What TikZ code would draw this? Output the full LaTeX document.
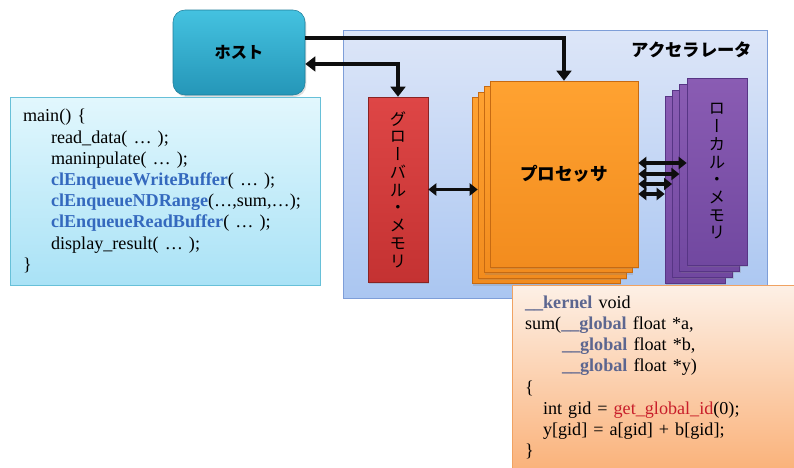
\documentclass[tikz,border=0pt]{standalone}
\usepackage{fontspec}
\setmainfont{Liberation Serif}
\newfontfamily\jpfont{Noto Sans CJK JP}
\newfontfamily\jpvert{Noto Sans CJK JP}[RawFeature=+vert]
\usepackage{tikz}
\usetikzlibrary{positioning,arrows.meta,shadows}
\definecolor{ink}      {HTML}{0E0E0E}
\definecolor{hostup}   {HTML}{44C2E0}
\definecolor{hostdown} {HTML}{2596B8}
\definecolor{hostline} {HTML}{1E7D99}
\definecolor{accup}    {HTML}{DDE6F8}
\definecolor{accdown}  {HTML}{AAC6F1}
\definecolor{accline}  {HTML}{7E9ED8}
\definecolor{srcup}    {HTML}{E2F7FD}
\definecolor{srcdown}  {HTML}{A9E2F6}
\definecolor{srcline}  {HTML}{67C0D8}
\definecolor{kerup}    {HTML}{FDF0E6}
\definecolor{kerdown}  {HTML}{FAB27A}
\definecolor{kerline}  {HTML}{F0A262}
\definecolor{gmemup}   {HTML}{DE4646}
\definecolor{gmemdown} {HTML}{C43232}
\definecolor{procup}   {HTML}{FFA231}
\definecolor{procdown} {HTML}{F28C1E}
\definecolor{procline} {HTML}{C66A12}
\definecolor{lmemup}   {HTML}{8A5CB3}
\definecolor{lmemdown} {HTML}{7148A0}
\definecolor{lmemline} {HTML}{573585}
\definecolor{apiblue}  {HTML}{3469BE}
\definecolor{kwgray}   {HTML}{5C6690}
\definecolor{fnred}    {HTML}{C81E2A}
\tikzset{
  % --- nodes
  shade/.style  = {drop shadow={opacity=.25, shadow xshift=1pt, shadow yshift=-1.5pt}},
  hostbox/.style= {rounded corners=9pt, draw=hostline, top color=hostup, bottom color=hostdown,
                   minimum width=99pt, minimum height=63.75pt, shade,
                   font=\jpfont\bfseries\fontsize{12.2}{14}\selectfont},
  accbox/.style = {draw=accline, top color=accup, bottom color=accdown,
                   minimum width=318pt, minimum height=201pt},
  src/.style    = {align=left, inner xsep=9.75pt, inner ysep=0pt,
                   font=\fontsize{13.6}{15.9}\selectfont},
  hostsrc/.style= {src, draw=srcline, top color=srcup, bottom color=srcdown,
                   text width=213pt, minimum height=141pt},
  kersrc/.style = {src, draw=kerline, top color=kerup, bottom color=kerdown,
                   text width=193.5pt, minimum height=138.75pt},
  vmem/.style   = {minimum width=45pt, align=center, inner sep=0pt, shade,
                   font=\jpvert\fontsize{12.5}{13.3}\selectfont},
  gmembox/.style= {vmem, draw=gmemdown!70!black, top color=gmemup, bottom color=gmemdown,
                   minimum height=138.75pt},
  lmembox/.style= {vmem, draw=lmemline, top color=lmemup, bottom color=lmemdown,
                   minimum height=140pt},
  procbox/.style= {draw=procline, top color=procup, bottom color=procdown,
                   minimum width=111pt, minimum height=139.5pt, shade,
                   font=\jpfont\bfseries\fontsize{13.2}{15}\selectfont},
  % --- edges
  arr/.style    = {ink, line width=3pt, -{Triangle[length=7.5pt,width=11pt]}},
  arrs/.style   = {ink, line width=2.4pt, {Triangle[length=6pt,width=9pt]}-{Triangle[length=6pt,width=9pt]}},
}
\begin{document}
\begin{tikzpicture}[x=0.75pt, y=-0.75pt]
  \useasboundingbox (0,0) rectangle (794,468);

  \node[accbox] (acc) at (555,164) {};
  \node[font=\jpfont\bfseries\fontsize{13}{15}\selectfont] (acclbl) at (692,50) {アクセラレータ};

  \node[gmembox] (gmem) at (398,189.5) {グ\\ロ\\ー\\バ\\ル\\・\\メ\\モ\\リ};

  % processors, back to front
  \node[procbox] (proc3) at (546,190.5) {};
  \node[procbox] (proc2) at (552,185) {};
  \node[procbox] (proc1) at (558,179.5) {};
  \node[procbox] (proc0) at (564,174) {プロセッサ};

  % local memories, back to front
  \node[lmembox] (lmem3) at (695,189.5) {};
  \node[lmembox] (lmem2) at (702.3,183.5) {};
  \node[lmembox] (lmem1) at (709.7,177.5) {};
  \node[lmembox] (lmem0) at (717,171.5) {ロ\\ー\\カ\\ル\\・\\メ\\モ\\リ};

  \node[hostbox] (host) at (239,52.5) {ホスト};

  \draw[arr] ([yshift=10.9pt]host.east) -| (proc0.north);
  \draw[arr, {Triangle[length=7.5pt,width=11pt]}-{Triangle[length=7.5pt,width=11pt]}]
    ([yshift=-8.6pt]host.east) -| (gmem.north);
  \draw[arrs] (gmem.east) -- (gmem.east -| proc2.west);
  \foreach \i/\y in {0/163,1/174,2/184,3/194}
    \draw[arrs] (proc0.east |- 0,\y) -- (lmem\i.west |- 0,\y);

  \node[hostsrc] (main) at (165,191) {main() \{\\
    \hspace*{21pt}read\_data( … );\\
    \hspace*{21pt}maninpulate( … );\\
    \hspace*{21pt}\textcolor{apiblue}{\textbf{clEnqueueWriteBuffer}}( … );\\
    \hspace*{21pt}\textcolor{apiblue}{\textbf{clEnqueueNDRange}}(…,sum,…);\\
    \hspace*{21pt}\textcolor{apiblue}{\textbf{clEnqueueReadBuffer}}( … );\\
    \hspace*{21pt}display\_result( … );\\
    \}};

  \node[kersrc] (kernel) at (654,377.5) {\textcolor{kwgray}{\textbf{\_\_kernel}} void\\
    sum(\textcolor{kwgray}{\textbf{\_\_global}} float *a,\\
    \hspace*{27.75pt}\textcolor{kwgray}{\textbf{\_\_global}} float *b,\\
    \hspace*{27.75pt}\textcolor{kwgray}{\textbf{\_\_global}} float *y)\\
    \{\\
    \hspace*{13.5pt}int gid = \textcolor{fnred}{get\_global\_id}(0);\\
    \hspace*{13.5pt}y[gid] = a[gid] + b[gid];\\
    \}};
\end{tikzpicture}
\end{document}
